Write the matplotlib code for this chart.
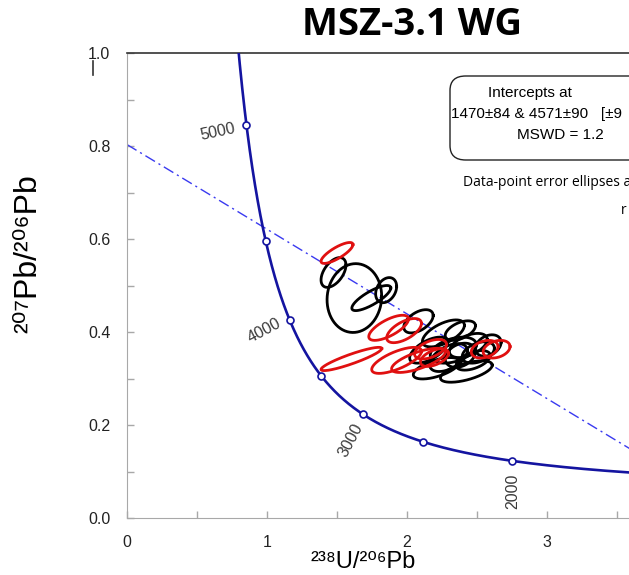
import numpy as np
import matplotlib
matplotlib.use("Agg")
import matplotlib.pyplot as plt
from matplotlib.patches import FancyBboxPatch
from matplotlib.lines import Line2D

# Decay constants (per year) and present-day 238U/235U
L238 = 1.55125e-10
L235 = 9.8485e-10
U_RATIO = 137.88

# Concordia age marks (Ma)
marker_ages = [2000, 2500, 3000, 3500, 4000, 4500, 5000]
label_ages = [2000, 3000, 4000, 5000]

# Discordia intercept ages (Ma)
lower_age = 1470
upper_age = 4571

# Analyses: 238U/206Pb, 2s, 207Pb/206Pb, 2s, error correlation
grp1_x   = [1.624, 1.475, 1.745, 1.851, 2.082, 2.260, 2.381, 2.210, 2.424, 2.331,
            2.438, 2.509, 2.296, 2.381, 2.473, 2.154, 2.580]
grp1_sx  = [0.195, 0.089, 0.139, 0.075, 0.105, 0.150, 0.108, 0.165, 0.185, 0.165,
            0.135, 0.115, 0.135, 0.108, 0.122, 0.135, 0.092]
grp1_y   = [0.473, 0.528, 0.473, 0.490, 0.423, 0.397, 0.403, 0.322, 0.315, 0.361,
            0.371, 0.356, 0.345, 0.350, 0.339, 0.361, 0.371]
grp1_sy  = [0.074, 0.032, 0.027, 0.027, 0.025, 0.029, 0.021, 0.023, 0.023, 0.028,
            0.026, 0.023, 0.030, 0.026, 0.021, 0.028, 0.023]
grp1_rho = [0.05, 0.5, 0.8, 0.3, 0.5, 0.6, 0.5, 0.6, 0.6, 0.4,
            0.5, 0.4, 0.5, 0.3, 0.5, 0.6, 0.3]

grp2_x   = [1.500, 1.603, 1.869, 1.979, 1.926, 2.082, 2.168, 2.196, 2.555, 2.640]
grp2_sx  = [0.114, 0.217, 0.142, 0.124, 0.178, 0.192, 0.114, 0.100, 0.096, 0.096]
grp2_y   = [0.570, 0.342, 0.409, 0.403, 0.339, 0.339, 0.363, 0.345, 0.363, 0.363]
grp2_sy  = [0.0225, 0.025, 0.027, 0.026, 0.028, 0.026, 0.021, 0.019, 0.019, 0.019]
grp2_rho = [0.8, 0.9, 0.7, 0.6, 0.7, 0.7, 0.5, 0.5, 0.3, 0.3]


def tw(age_ma):
    t = np.asarray(age_ma, dtype=float) * 1e6
    e8 = np.exp(L238 * t) - 1.0
    e5 = np.exp(L235 * t) - 1.0
    return 1.0 / e8, e5 / (U_RATIO * e8)


def ellipse_xy(x0, sx, y0, sy, rho, n=200):
    th = np.linspace(0, 2 * np.pi, n)
    x = x0 + sx * np.cos(th)
    y = y0 + sy * (rho * np.cos(th) + np.sqrt(1 - rho ** 2) * np.sin(th))
    return x, y


W, H = 629, 575
fig = plt.figure(figsize=(W / 100, H / 100), dpi=100)
x_max = 3.8
ax = fig.add_axes([127 / W, 57 / H, x_max * 140 / W, 465 / H])
ax.set_xlim(0, x_max)
ax.set_ylim(0, 1.0)

# Concordia curve
ages = np.linspace(1200, 5600, 800)
cx, cy = tw(ages)
ax.plot(cx, cy, color="#1414a0", lw=1.9, zorder=3)
mx, my = tw(marker_ages)
ax.plot(mx, my, "o", ms=5, mfc="white", mec="#1414a0", mew=1.2, zorder=4)

# Age labels along concordia (offset from the mark, rotation)
label_style = {2000: (0.007, -0.065, 90), 3000: (-0.086, -0.056, 62),
               4000: (-0.18, -0.0215, 28), 5000: (-0.207, -0.015, 12)}
lx, ly = tw(label_ages)
for a, x, y in zip(label_ages, lx, ly):
    dx, dy, rot = label_style[a]
    ax.text(x + dx, y + dy, str(a), rotation=rot, ha="center", va="center",
            fontsize=11.5, color="#3a3a3a", family="Liberation Sans",
            rotation_mode="anchor")

# Discordia through the two intercepts
x1, y1 = tw(upper_age)
x2, y2 = tw(lower_age)
slope = (y2 - y1) / (x2 - x1)
y_int = y1 - slope * x1
dxs = np.array([0.0, x_max])
ax.plot(dxs, y_int + slope * dxs, color="#3a3af0", lw=1.0,
        dashes=(8, 3, 1.5, 3), zorder=2)

# Error ellipses
for xs, sxs, ys, sys_, rs, col in [
    (grp1_x, grp1_sx, grp1_y, grp1_sy, grp1_rho, "black"),
    (grp2_x, grp2_sx, grp2_y, grp2_sy, grp2_rho, "#e01010"),
]:
    for x0, sx, y0, sy, r in zip(xs, sxs, ys, sys_, rs):
        ex, ey = ellipse_xy(x0, sx, y0, sy, r)
        ax.plot(ex, ey, color=col, lw=2.0, zorder=5)

# Axes styling
ax.spines["right"].set_visible(False)
ax.spines["left"].set_color("#a8a8a8")
ax.spines["bottom"].set_color("#a8a8a8")
ax.spines["top"].set_color("#333333")
ax.spines["top"].set_linewidth(1.2)
ax.set_xticks([0, 1, 2, 3])
ax.set_xticks([0.5, 1.5, 2.5, 3.5], minor=True)
ax.set_yticks([0.0, 0.2, 0.4, 0.6, 0.8, 1.0])
ax.set_yticks([0.1, 0.3, 0.5, 0.7, 0.9], minor=True)
ax.set_xticklabels(["0", "1", "2", "3"])
ax.set_yticklabels(["0.0", "0.2", "0.4", "0.6", "0.8", "1.0"])
ax.tick_params(which="both", direction="in", color="#a8a8a8", length=5,
               width=1, top=False, right=False)
ax.tick_params(axis="y", pad=12, labelsize=11.5, labelcolor="#222222")
ax.tick_params(axis="x", pad=12, labelsize=11.5, labelcolor="#222222")
for lab in ax.get_xticklabels() + ax.get_yticklabels():
    lab.set_family("Liberation Sans")

# Axis titles (superscript isotope masses)
fams = ["Liberation Sans", "DejaVu Sans"]
fig.text(363 / W, 1 - 568 / H, "\u00b2\u00b3\u2078U/\u00b2\u2070\u2076Pb",
         ha="center", va="baseline", fontsize=17, family=fams)
fig.text(28 / W, 1 - 254 / H, "\u00b2\u2070\u2077Pb/\u00b2\u2070\u2076Pb",
         ha="center", va="center", rotation=90, fontsize=23, family=fams)

# Title
fig.text(412 / W, 1 - 25 / H, "MSZ-3.1 WG", ha="center", va="center",
         fontsize=27.5, fontweight="bold", family="Open Sans")

# Intercept box
box = FancyBboxPatch((450 / W, 1 - 160 / H), 260 / W, 84 / H,
                     boxstyle="round,pad=0,rounding_size=0.025",
                     transform=fig.transFigure, fc="white", ec="#222222",
                     lw=1.0, zorder=6)
fig.patches.append(box)
fig.text(530 / W, 1 - 93 / H, "Intercepts at", ha="center", va="center",
         fontsize=11, family="Liberation Sans", zorder=7)
fig.text(451 / W, 1 - 114 / H, "1470\u00b184 & 4571\u00b190   [\u00b19",
         ha="left", va="center", fontsize=11, family="Liberation Sans",
         zorder=7)
fig.text(517 / W, 1 - 135 / H, "MSWD = 1.2", ha="left", va="center",
         fontsize=11, family="Liberation Sans", zorder=7)
fig.text(463 / W, 1 - 183 / H, "Data-point error ellipses are 2\u03c3",
         ha="left", va="center", fontsize=10, family="Open Sans", zorder=7)
fig.text(621 / W, 1 - 211 / H, "r", ha="left", va="center",
         fontsize=10, family="Open Sans", zorder=7)

# small stroke beside the top tick label
fig.add_artist(Line2D([93 / W, 93 / W], [1 - 61 / H, 1 - 75 / H],
                      transform=fig.transFigure, color="#333333", lw=1.2))

fig.savefig("out.png", dpi=100)
